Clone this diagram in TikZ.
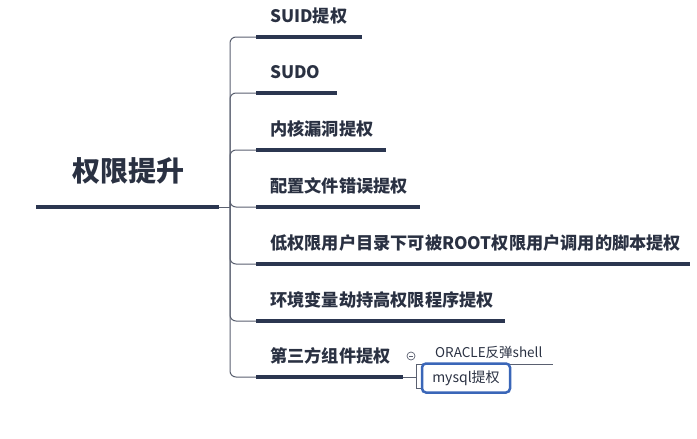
\documentclass[tikz,border=0pt]{standalone}
\usepackage{fontspec}
\setmainfont{Noto Sans CJK SC}
\definecolor{navy}{HTML}{2B3650}
\definecolor{conn}{HTML}{5A6070}
\definecolor{txt}{HTML}{2A3142}
\definecolor{selblue}{HTML}{3A66B8}
\tikzset{
  thick line/.style={line width=4pt, navy},
  connector/.style={line width=1pt, conn, rounded corners=6pt},
  topic/.style={anchor=west, inner sep=0pt, text=txt, font=\fontsize{17.2}{18}\selectfont\bfseries},
  subtopic/.style={inner sep=0pt, text=txt, font=\fontsize{13.5}{14}\selectfont},
}
\begin{document}
\begin{tikzpicture}[x=1pt,y=-1pt]
\useasboundingbox (0,0) rectangle (697,439);
% root
\node[inner sep=0pt, text=txt, font=\fontsize{28}{28}\selectfont\bfseries] (root) at (128,171) {权限提升};
\coordinate (rootL) at (36,207);
\coordinate (rootR) at (219,207);
\draw[thick line] (rootL) -- (rootR);
\coordinate (hub) at (230,207);
\draw[line width=1pt, conn] (rootR) -- (hub);
% branches
\foreach \name/\y/\xe/\label in {
  b1/37/362/{SUID提权},
  b2/93/337/{SUDO},
  b3/150/386/{内核漏洞提权},
  b4/207/420/{配置文件错误提权},
  b5/264/690/{低权限用户目录下可被ROOT权限用户调用的脚本提权},
  b6/321/505/{环境变量劫持高权限程序提权},
  b7/377/403/{第三方组件提权}}{
  \coordinate (\name s) at (256,\y);
  \coordinate (\name e) at (\xe,\y);
  \draw[connector] (hub) |- (\name s);
  \draw[thick line] (\name s) -- (\name e);
  \node[topic] (\name t) at (270,\y-21) {\label};
}
% sub branches of b7
\coordinate (br) at (416,377);
\coordinate (brtop) at (416,364);
\coordinate (brbot) at (416,388);
\coordinate (oraE) at (553,364);
\draw[line width=0.8pt, conn] (b7e) -- (br);
\draw[line width=0.8pt, conn] (brbot) -- (brtop) -- (oraE);
\draw[line width=0.8pt, conn] (brbot) -- (422,388);
\node[subtopic, anchor=south west] (ora) at (435,359) {ORACLE反弹shell};
\node[draw=selblue, line width=2.5pt, rounded corners=4pt, minimum width=88pt, minimum height=29pt, inner sep=0pt, text=txt, font=\fontsize{14}{14}\selectfont] (mysql) at (466,378) {mysql提权};
\node[draw=conn, line width=0.7pt, circle, minimum size=8pt, inner sep=0pt] (fold) at (411,356) {};
\draw[line width=0.8pt, conn] ([xshift=-2pt]fold.center) -- ([xshift=2pt]fold.center);
\end{tikzpicture}
\end{document}
